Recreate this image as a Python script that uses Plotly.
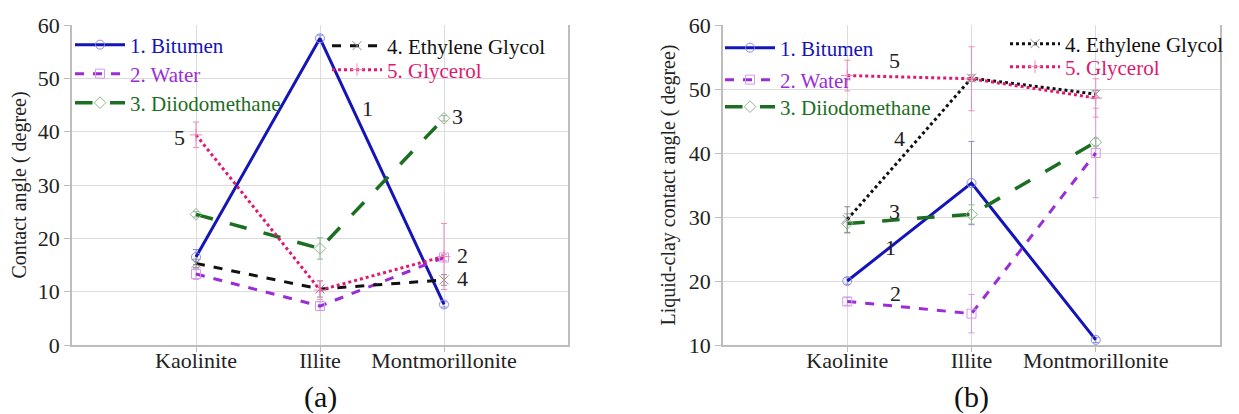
import plotly.graph_objects as go

# Clay minerals on the x axis
minerals = ["Kaolinite", "Illite", "Montmorillonite"]
x_pos = [0, 1, 2]

# Panel (a): contact angle (degree)
a_bitumen = [16.5, 57.5, 7.6]
a_water = [13.3, 7.3, 16.4]
a_diiodo = [24.5, 18.1, 42.5]
a_ethylene = [15.3, 10.5, 12.2]
a_glycerol = [39.4, 10.3, 16.6]

a_bitumen_err = [1.4, 0.6, 0.5]
a_water_err = [1.0, 0.8, 0.6]
a_diiodo_err = [0.5, 2.0, 0.5]
a_ethylene_err = [0.8, 1.5, 1.0]
a_glycerol_err = [2.4, 1.8, 6.2]

# Panel (b): liquid-clay contact angle (degree)
b_bitumen = [20.0, 35.3, 10.8]
b_water = [16.8, 14.9, 40.0]
b_diiodo = [29.0, 30.4, 41.7]
b_ethylene = [29.6, 51.7, 49.2]
b_glycerol = [52.1, 51.6, 48.6]

b_bitumen_err = [0.5, 6.5, 0.4]
b_water_err = [0.6, 3.0, 7.0]
b_diiodo_err = [1.5, 1.5, 0.6]
b_ethylene_err = [2.0, 0.5, 0.6]
b_glycerol_err = [2.4, 5.0, 3.0]

series_names = ["1. Bitumen", "2. Water", "3. Diiodomethane",
                "4. Ethylene Glycol", "5. Glycerol"]

line_colors = ["#1414b8", "#9a2ed6", "#1c6e22", "#111111", "#e0186e"]
marker_colors = ["#8a8ae8", "#d59ae8", "#8fb58f", "#8a8a8a", "#f08ab8"]
symbols = ["circle-open", "square-open", "diamond-open", "x-thin-open", "cross-thin-open"]
a_dashes = ["solid", "dash", "longdash", "dash", "dot"]
b_dashes = ["solid", "dash", "longdash", "dot", "dot"]
line_widths = [3, 3, 3.5, 3, 3]

FONT = "Liberation Serif"
W, H = 1239, 414

# Legend entry anchors (left x, centre y) in pixels, one legend box per entry
a_legend_xy = [(70, 45), (70, 74), (70, 103), (327, 46), (327, 70)]
b_legend_xy = [(720, 48), (720, 80), (720, 107), (1005, 44), (1005, 67)]

fig = go.Figure()
legend_layout = {}

panels = [
    ("x", "y", [a_bitumen, a_water, a_diiodo, a_ethylene, a_glycerol],
     [a_bitumen_err, a_water_err, a_diiodo_err, a_ethylene_err, a_glycerol_err],
     a_dashes, a_legend_xy, 0),
    ("x2", "y2", [b_bitumen, b_water, b_diiodo, b_ethylene, b_glycerol],
     [b_bitumen_err, b_water_err, b_diiodo_err, b_ethylene_err, b_glycerol_err],
     b_dashes, b_legend_xy, 5),
]

for xa, ya, values, errors, dashes, legend_xy, offset in panels:
    for i in range(5):
        n = offset + i + 1
        key = "legend" if n == 1 else f"legend{n}"
        px, py = legend_xy[i]
        legend_layout[key] = dict(x=px / W, y=1 - py / H, xanchor="left", yanchor="middle",
                                  bgcolor="rgba(0,0,0,0)", itemwidth=50,
                                  font=dict(family=FONT, size=21))
        fig.add_trace(go.Scatter(
            x=x_pos, y=values[i], xaxis=xa, yaxis=ya,
            mode="lines+markers",
            name=f"<span style='color:{line_colors[i]}'>{series_names[i]}</span>",
            legend=key, showlegend=True,
            line=dict(color=line_colors[i], width=line_widths[i], dash=dashes[i]),
            marker=dict(symbol=symbols[i], size=9, color=marker_colors[i],
                        line=dict(width=1, color=marker_colors[i])),
            error_y=dict(type="data", array=errors[i], visible=True,
                         color=marker_colors[i], thickness=1, width=3),
        ))

# Series number labels placed next to the curves
a_labels = [("5", -0.13, 39.0), ("1", 1.38, 44.4), ("3", 2.11, 42.8),
            ("2", 2.15, 16.8), ("4", 2.15, 12.4)]
b_labels = [("5", 0.38, 54.4), ("4", 0.42, 42.3), ("3", 0.38, 30.8),
            ("1", 0.35, 25.3), ("2", 0.39, 18.0)]

annotations = []
for txt, xv, yv in a_labels:
    annotations.append(dict(x=xv, y=yv, xref="x", yref="y", text=txt, showarrow=False,
                            font=dict(family=FONT, size=22, color="#222")))
for txt, xv, yv in b_labels:
    annotations.append(dict(x=xv, y=yv, xref="x2", yref="y2", text=txt, showarrow=False,
                            font=dict(family=FONT, size=22, color="#222")))

cap_y = (H - 397) / H
annotations.append(dict(x=1, y=cap_y, xref="x", yref="paper", text="(a)", showarrow=False,
                        yanchor="middle", font=dict(family=FONT, size=30, color="#111")))
annotations.append(dict(x=1, y=cap_y, xref="x2", yref="paper", text="(b)", showarrow=False,
                        yanchor="middle", font=dict(family=FONT, size=30, color="#111")))

ydom = [(H - 345) / H, (H - 25) / H]

axis_common = dict(
    showgrid=True, gridcolor="#dcdcdc", gridwidth=1,
    showline=True, linecolor="#bdbdbd", linewidth=1.5,
    ticks="outside", tickcolor="#bdbdbd",
    tickfont=dict(family=FONT, size=22, color="#222"),
    zeroline=False, automargin=False,
)
x_common = dict(range=[-1, 3], tickvals=x_pos, ticktext=minerals,
                ticklen=5, ticklabelstandoff=-10, **axis_common)
y_common = dict(dtick=10, mirror=True, ticklen=6, **axis_common)

fig.update_layout(
    width=W, height=H,
    showlegend=True,
    margin=dict(l=0, r=0, t=0, b=0, pad=0, autoexpand=False),
    paper_bgcolor="white", plot_bgcolor="white",
    font=dict(family=FONT, size=22, color="#222"),
    xaxis=dict(domain=[72 / W, 568 / W], anchor="y", **x_common),
    yaxis=dict(domain=ydom, range=[0, 60], anchor="x",
               title=dict(text="Contact angle ( degree)", standoff=6,
                          font=dict(family=FONT, size=20, color="#222")),
               **y_common),
    xaxis2=dict(domain=[723 / W, 1220 / W], anchor="y2", **x_common),
    yaxis2=dict(domain=ydom, range=[10, 60], anchor="x2",
                title=dict(text="Liquid-clay contact angle ( degree)", standoff=8,
                           font=dict(family=FONT, size=20, color="#222")),
                **y_common),
    annotations=annotations,
    **legend_layout,
)

fig.write_html("out.html")
